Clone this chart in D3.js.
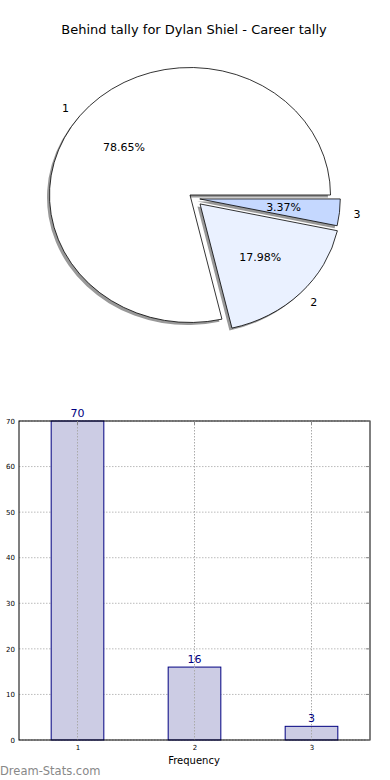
<!DOCTYPE html>
<html>
<head>
<meta charset="utf-8">
<script src="https://cdn.jsdelivr.net/npm/d3@7"></script>
<style>
  body { margin: 0; background: #fff; }
  text { font-family: "DejaVu Sans", sans-serif; }
</style>
</head>
<body>
<svg width="390" height="780"></svg>
<script>
var categories = ["1", "2", "3"];
var counts = [70, 16, 3];
var pctLabels = ["78.65%", "17.98%", "3.37%"];
var sliceColors = ["#ffffff", "#eaf1ff", "#c5d8ff"];
var explode = [0, 0.1, 0.07];
var yTicks = [0, 10, 20, 30, 40, 50, 60, 70];

var svg = d3.select("svg"),
    width = +svg.attr("width"),
    height = +svg.attr("height");

// title
svg.append("text")
    .attr("x", 194).attr("y", 34)
    .attr("text-anchor", "middle")
    .style("font-size", "13px")
    .text("Behind tally for Dylan Shiel - Career tally");

// pie (elliptical, like the stretched matplotlib axes)
var cx = 190, cy = 195, rx = 140.5, ry = 127.5, r = 100;

var pie = d3.pie().sort(null)
    .startAngle(Math.PI / 2)
    .endAngle(Math.PI / 2 - 2 * Math.PI);

var arcs = pie(counts);
var arc = d3.arc().innerRadius(0).outerRadius(r);

var pieG = svg.append("g")
    .attr("transform", "translate(" + cx + "," + cy + ")");

arcs.forEach(function(d, i) {
    var mid = (d.startAngle + d.endAngle) / 2;
    var ox = explode[i] * Math.sin(mid) * rx,
        oy = -explode[i] * Math.cos(mid) * ry + (i === 2 ? 3 : 0);
    // shadow
    pieG.append("path")
        .attr("d", arc(d))
        .attr("transform", "translate(" + (ox - 2.5) + "," + (oy + 2.5) + ") scale(" + rx / r + "," + ry / r + ")")
        .style("fill", "#999");
    pieG.append("path")
        .attr("d", arc(d))
        .attr("transform", "translate(" + ox + "," + oy + ") scale(" + rx / r + "," + ry / r + ")")
        .style("fill", sliceColors[i])
        .style("stroke", "#000")
        .style("stroke-width", "0.8px")
        .attr("vector-effect", "non-scaling-stroke");

    var lx = ox + 1.1 * Math.sin(mid) * rx,
        ly = oy - 1.1 * Math.cos(mid) * ry;
    pieG.append("text")
        .attr("x", lx).attr("y", ly)
        .attr("dy", "0.35em")
        .attr("text-anchor", lx > 0 ? "start" : "end")
        .style("font-size", "11px")
        .text(categories[i]);

    var px = ox + 0.6 * Math.sin(mid) * rx,
        py = oy - 0.6 * Math.cos(mid) * ry;
    pieG.append("text")
        .attr("x", px).attr("y", py)
        .attr("dy", "0.35em")
        .attr("text-anchor", "middle")
        .style("font-size", "11px")
        .text(pctLabels[i]);
});

// bar chart
var plotLeft = 19, plotRight = 370, plotTop = 421, plotBottom = 740;

var x = d3.scaleLinear().domain([0.5, 3.5]).range([plotLeft, plotRight]);
var y = d3.scaleLinear().domain([0, 70]).range([plotBottom, plotTop]);
var barW = x(0.45) - x(0);

var barG = svg.append("g");

// horizontal grid
barG.selectAll(".ygrid")
    .data(yTicks)
    .enter().append("line")
    .attr("x1", plotLeft).attr("x2", plotRight)
    .attr("y1", function(d) { return y(d); })
    .attr("y2", function(d) { return y(d); })
    .style("stroke", "#bbb")
    .style("stroke-dasharray", "1.5,1.5");

// bars
barG.selectAll(".bar")
    .data(counts)
    .enter().append("rect")
    .attr("x", function(d, i) { return x(+categories[i]) - barW / 2; })
    .attr("y", function(d) { return y(d); })
    .attr("width", barW)
    .attr("height", function(d) { return plotBottom - y(d); })
    .style("fill", "#ccccE4")
    .style("stroke", "#000080")
    .style("stroke-width", "1px");

// vertical grid on top of bars
barG.selectAll(".xgrid")
    .data(categories)
    .enter().append("line")
    .attr("x1", function(d) { return x(+d); })
    .attr("x2", function(d) { return x(+d); })
    .attr("y1", plotTop).attr("y2", plotBottom)
    .style("stroke", "#aaa")
    .style("stroke-dasharray", "1.5,1.5");

barG.selectAll(".val")
    .data(counts)
    .enter().append("text")
    .attr("x", function(d, i) { return x(+categories[i]); })
    .attr("y", function(d) { return y(d) - 4; })
    .attr("text-anchor", "middle")
    .style("font-size", "11px")
    .style("fill", "#000080")
    .text(function(d) { return d; });

// frame
barG.append("rect")
    .attr("x", plotLeft).attr("y", plotTop)
    .attr("width", plotRight - plotLeft).attr("height", plotBottom - plotTop)
    .style("fill", "none")
    .style("stroke", "#000")
    .style("stroke-width", "1px");

// axes
var yAxis = d3.axisLeft(y).tickValues(yTicks).tickSize(0).tickPadding(4);
var xAxis = d3.axisBottom(x).tickValues(categories.map(Number)).tickSize(0).tickPadding(5)
    .tickFormat(d3.format("d"));

var ya = svg.append("g").attr("transform", "translate(" + plotLeft + ",0)").call(yAxis);
var xa = svg.append("g").attr("transform", "translate(0," + plotBottom + ")").call(xAxis);
[ya, xa].forEach(function(a) {
    a.select(".domain").remove();
    a.selectAll("text").style("font-size", "7px").style("font-family", "DejaVu Sans, sans-serif").style("fill", "#000");
});

// inner ticks
svg.selectAll(".ytick-r")
    .data(yTicks)
    .enter().append("line")
    .attr("x1", plotRight - 4).attr("x2", plotRight)
    .attr("y1", function(d) { return y(d); })
    .attr("y2", function(d) { return y(d); })
    .style("stroke", "#888");
svg.selectAll(".xtick-t")
    .data(categories)
    .enter().append("line")
    .attr("x1", function(d) { return x(+d); })
    .attr("x2", function(d) { return x(+d); })
    .attr("y1", plotTop).attr("y2", plotTop + 4)
    .style("stroke", "#888");

svg.append("text")
    .attr("x", 194).attr("y", 764)
    .attr("text-anchor", "middle")
    .style("font-size", "10px")
    .text("Frequency");

svg.append("text")
    .attr("x", 0).attr("y", 775)
    .style("font-size", "11.5px")
    .style("fill", "#888")
    .text("Dream-Stats.com");
</script>
</body>
</html>
